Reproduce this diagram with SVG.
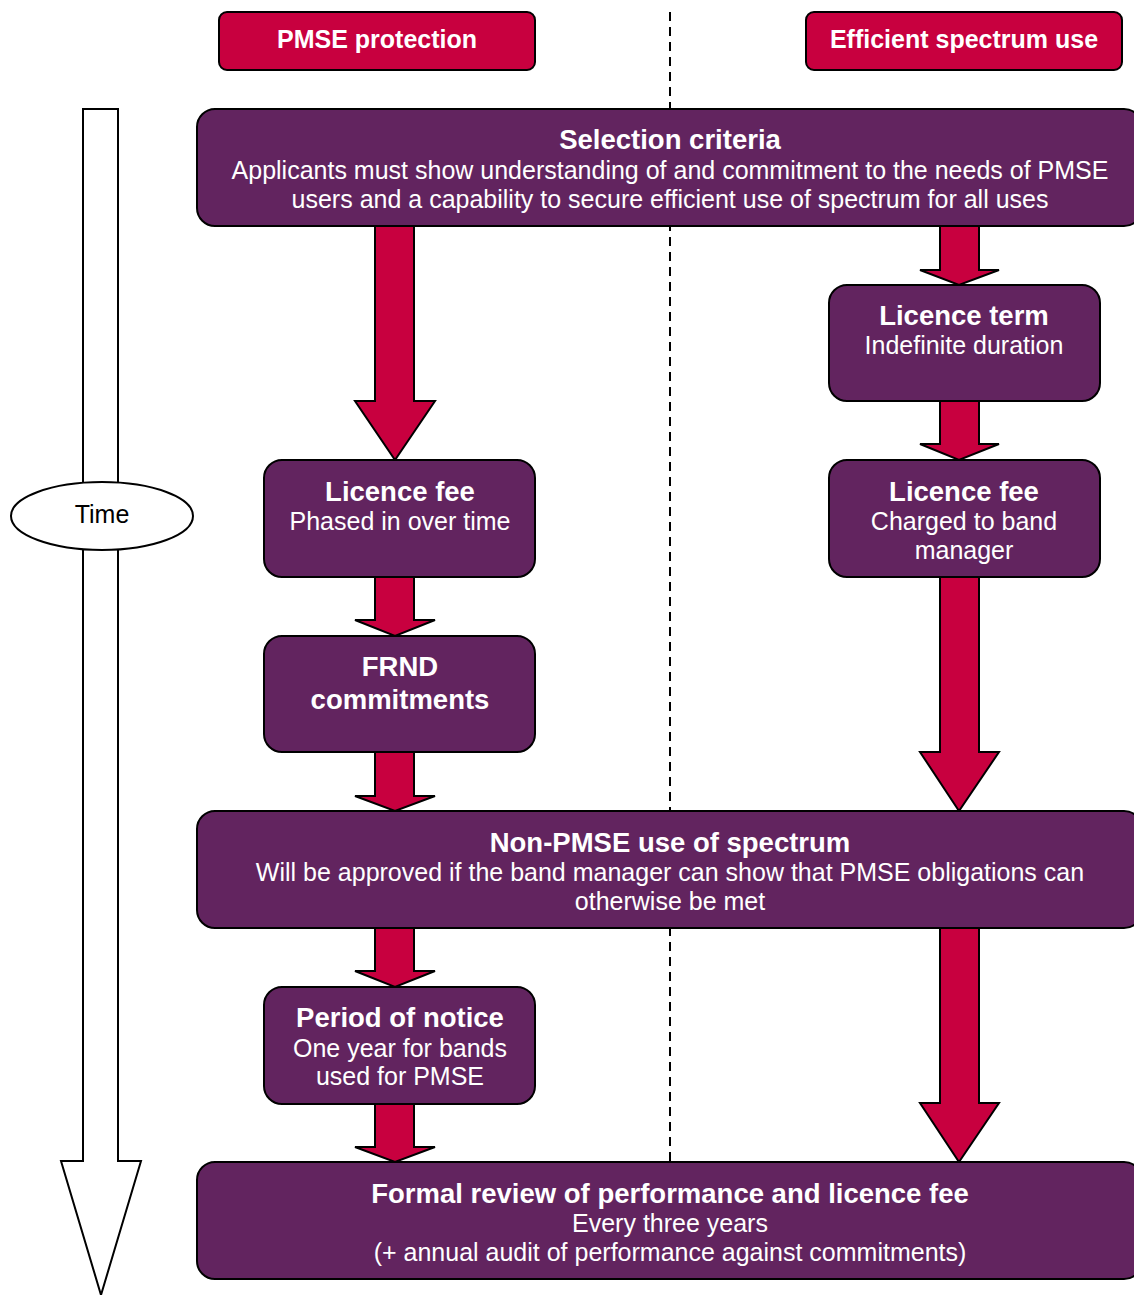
<svg xmlns="http://www.w3.org/2000/svg" width="1134" height="1295" viewBox="0 0 1134 1295">
<style>
.hdr{fill:#C8003F;stroke:#000;stroke-width:2}
.box{fill:#62245F;stroke:#000;stroke-width:2}
.arr{fill:#C8003F;stroke:#000;stroke-width:2;stroke-linejoin:miter}
.t{font-family:"Liberation Sans",Arial,sans-serif;fill:#fff;text-anchor:middle}
.b{font-weight:bold;font-size:27.5px}
.n{font-size:25px}
.hb{font-weight:bold;font-size:25px}
</style>
<rect width="1134" height="1295" fill="#fff"/>
<line x1="670" y1="12" x2="670" y2="1162" stroke="#000" stroke-width="2" stroke-dasharray="9,6"/>
<g id="time">
<polygon points="83,109 118,109 118,1161 141,1161 101,1295 61,1161 83,1161" fill="#fff" stroke="#000" stroke-width="2"/>
<ellipse cx="102" cy="516" rx="91" ry="34" fill="#fff" stroke="#000" stroke-width="2"/>
<text x="102" y="523" font-family="Liberation Sans,Arial,sans-serif" font-size="25" text-anchor="middle" fill="#000">Time</text>
</g>
<g id="connectors">
<polygon class="arr" points="375,226 414,226 414,401 435,401 395,460 355,401 375,401"/>
<polygon class="arr" points="375,577 414,577 414,620 435,620 395,636 355,620 375,620"/>
<polygon class="arr" points="375,752 414,752 414,796 435,796 395,811 355,796 375,796"/>
<polygon class="arr" points="375,928 414,928 414,971 435,971 395,987 355,971 375,971"/>
<polygon class="arr" points="375,1104 414,1104 414,1147 435,1147 395,1162 355,1147 375,1147"/>
<polygon class="arr" points="940,226 979,226 979,270 999,270 959,285 920,270 940,270"/>
<polygon class="arr" points="940,401 979,401 979,444 999,444 959,460 920,444 940,444"/>
<polygon class="arr" points="940,577 979,577 979,752 999,752 959,811 920,752 940,752"/>
<polygon class="arr" points="940,928 979,928 979,1103 999,1103 959,1162 920,1103 940,1103"/>
</g>
<g id="pmse-protection">
<rect class="hdr" x="219" y="12" width="316" height="58" rx="8"/>
<text class="t hb" x="377" y="48">PMSE protection</text>
</g>
<g id="efficient-spectrum-use">
<rect class="hdr" x="806" y="12" width="316" height="58" rx="8"/>
<text class="t hb" x="964" y="48">Efficient spectrum use</text>
</g>
<g id="selection-criteria">
<rect class="box" x="197" y="109" width="945" height="117" rx="18"/>
<text class="t b" x="670" y="149">Selection criteria</text>
<text class="t n" x="670" y="179">Applicants must show understanding of and commitment to the needs of PMSE</text>
<text class="t n" x="670" y="208">users and a capability to secure efficient use of spectrum for all uses</text>
</g>
<g id="licence-term">
<rect class="box" x="829" y="285" width="271" height="116" rx="18"/>
<text class="t b" x="964" y="325">Licence term</text>
<text class="t n" x="964" y="354">Indefinite duration</text>
</g>
<g id="licence-fee-left">
<rect class="box" x="264" y="460" width="271" height="117" rx="18"/>
<text class="t b" x="400" y="501">Licence fee</text>
<text class="t n" x="400" y="530">Phased in over time</text>
</g>
<g id="licence-fee-right">
<rect class="box" x="829" y="460" width="271" height="117" rx="18"/>
<text class="t b" x="964" y="501">Licence fee</text>
<text class="t n" x="964" y="530">Charged to band</text>
<text class="t n" x="964" y="559">manager</text>
</g>
<g id="frnd">
<rect class="box" x="264" y="636" width="271" height="116" rx="18"/>
<text class="t b" x="400" y="676">FRND</text>
<text class="t b" x="400" y="709">commitments</text>
</g>
<g id="non-pmse">
<rect class="box" x="197" y="811" width="945" height="117" rx="18"/>
<text class="t b" x="670" y="852">Non-PMSE use of spectrum</text>
<text class="t n" x="670" y="881">Will be approved if the band manager can show that PMSE obligations can</text>
<text class="t n" x="670" y="910">otherwise be met</text>
</g>
<g id="period-of-notice">
<rect class="box" x="264" y="987" width="271" height="117" rx="18"/>
<text class="t b" x="400" y="1027">Period of notice</text>
<text class="t n" x="400" y="1057">One year for bands</text>
<text class="t n" x="400" y="1085">used for PMSE</text>
</g>
<g id="formal-review">
<rect class="box" x="197" y="1162" width="945" height="117" rx="18"/>
<text class="t b" x="670" y="1203">Formal review of performance and licence fee</text>
<text class="t n" x="670" y="1232">Every three years</text>
<text class="t n" x="670" y="1261">(+ annual audit of performance against commitments)</text>
</g>
</svg>
